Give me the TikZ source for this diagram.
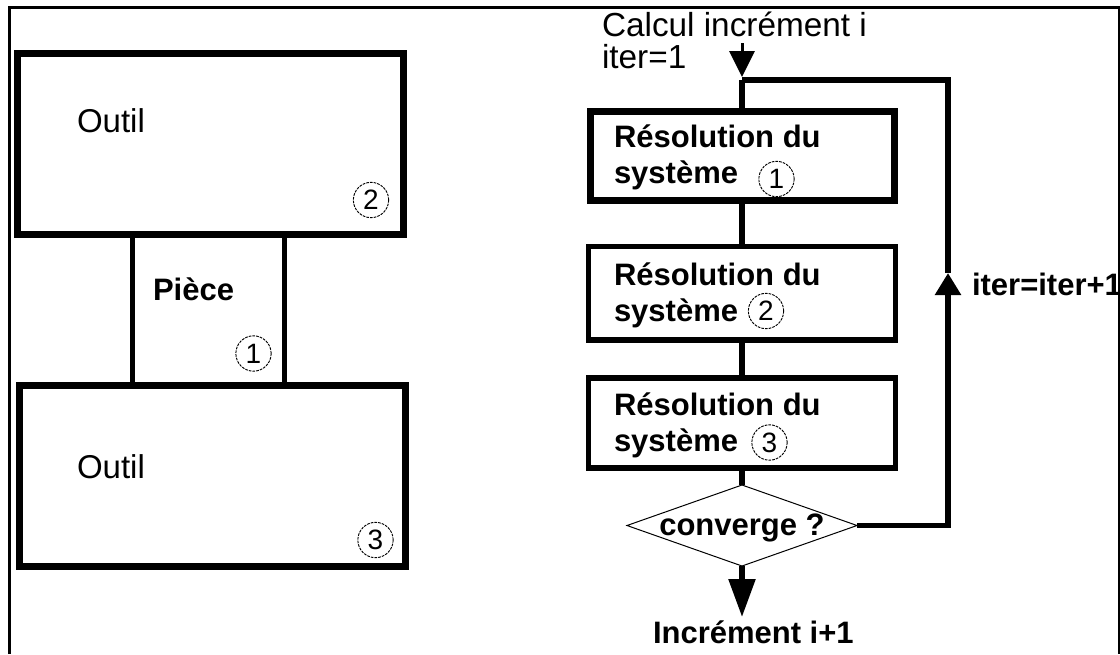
\documentclass[tikz,border=0pt]{standalone}
\usepackage{fontspec}
\setmainfont{Liberation Sans}
\usetikzlibrary{arrows.meta,shapes.geometric}
\newcommand\fsz[1]{\fontsize{#1}{#1}\selectfont}
\begin{document}
\begin{tikzpicture}[x=0.75pt,y=-0.75pt,
  every node/.style={inner sep=0pt, outer sep=0pt},
  tool/.style={draw, rectangle, line width=5.25pt, minimum width=289.5pt, minimum height=135.75pt},
  piecebox/.style={rectangle, minimum width=114pt, minimum height=113.25pt},
  pl/.style={line width=3.75pt},
  sysbox/.style={draw, rectangle, line width=4.125pt, minimum width=230.25pt},
  conn/.style={line width=4.125pt},
  decide/.style={draw, diamond, line width=0.75pt, minimum width=172.5pt, minimum height=60.75pt},
  num/.style={draw, circle, line width=0.7pt, dash pattern=on 2pt off 0.8pt, minimum size=26.5pt, font=\fsz{21pt}},
  lab/.style={anchor=base west, font=\fsz{23.25pt}\bfseries},
  labr/.style={anchor=base west, font=\fsz{24.75pt}},
  labc/.style={anchor=base west, font=\fsz{25pt}}
]
\useasboundingbox (0,0) rectangle (1120,654);
% frame
\draw[line width=2.25pt] (9.5,654) -- (9.5,7.5) -- (1119.5,7.5);
\draw[line width=1.5pt] (1119,7.5) -- (1119,654);

% left part
\node[tool] (tool1) at (210.75,143.5) {};
\node[tool] (tool2) at (212.75,475.75) {};
\node[piecebox] (piece) at (208.5,309.5) {};
\draw[pl] (piece.north west) -- (piece.south west);
\draw[pl] (piece.north east) -- (piece.south east);
\node[labr] (o1) at (77,132) {Outil};
\node[labr] (o2) at (77,478) {Outil};
\node[lab] (pc) at (153,300) {Pièce};
\node[num] (n2a) at (371,200) {2};
\node[num] (n1a) at (253.5,353.5) {1};
\node[num] (n3a) at (375.5,540) {3};

% right part
\node[labc] (calc) at (602,36) {Calcul incrément i};
\node[labc] (it1) at (602,68) {iter=1};
\node[sysbox, line width=5.25pt, minimum width=228pt, minimum height=67.125pt] (b1) at (742,155.75) {};
\node[sysbox, minimum height=70.125pt] (b2) at (742,293.25) {};
\node[sysbox, minimum height=67.5pt] (b3) at (742,423) {};
\node[decide] (dia) at (742,525.5) {};

\node[lab] (t1a) at (614,147) {Résolution du};
\node[lab] (t1b) at (614,183) {système};
\node[num] (n1b) at (776.5,179) {1};
\node[lab] (t2a) at (614,285) {Résolution du};
\node[lab] (t2b) at (614,321) {système};
\node[num] (n2b) at (766,311) {2};
\node[lab] (t3a) at (614,415) {Résolution du};
\node[lab] (t3b) at (614,451) {système};
\node[num] (n3b) at (769.5,442.5) {3};
\node[font=\fsz{23.25pt}\bfseries, anchor=base] (cv) at (742,535) {converge ?};
\node[lab] (inc) at (653,643) {Incrément i+1};
\node[lab] (itp) at (972,295) {iter=iter+1};

\coordinate (start) at (742,43);
\coordinate (tip) at (742,77);
\coordinate (junc) at (742,80);
\coordinate (up) at (948,273);
\coordinate (out) at (742,617);

\draw[line width=2.25pt, -{Triangle[width=18.75pt,length=19.5pt]}] (start) -- (tip);
\draw[conn] (junc) -- (b1.north);
\draw[conn] (b1.south) -- (b2.north);
\draw[conn] (b2.south) -- (b3.north);
\draw[conn] (b3.south) -- (dia.north);
\draw[conn, -{Triangle[width=18.75pt,length=16.5pt]}] (dia.east) -| (up);
\draw[conn] (up) |- (junc);
\draw[conn, -{Triangle[width=19.5pt,length=28.5pt]}] (dia.south) -- (out);
\end{tikzpicture}
\end{document}
